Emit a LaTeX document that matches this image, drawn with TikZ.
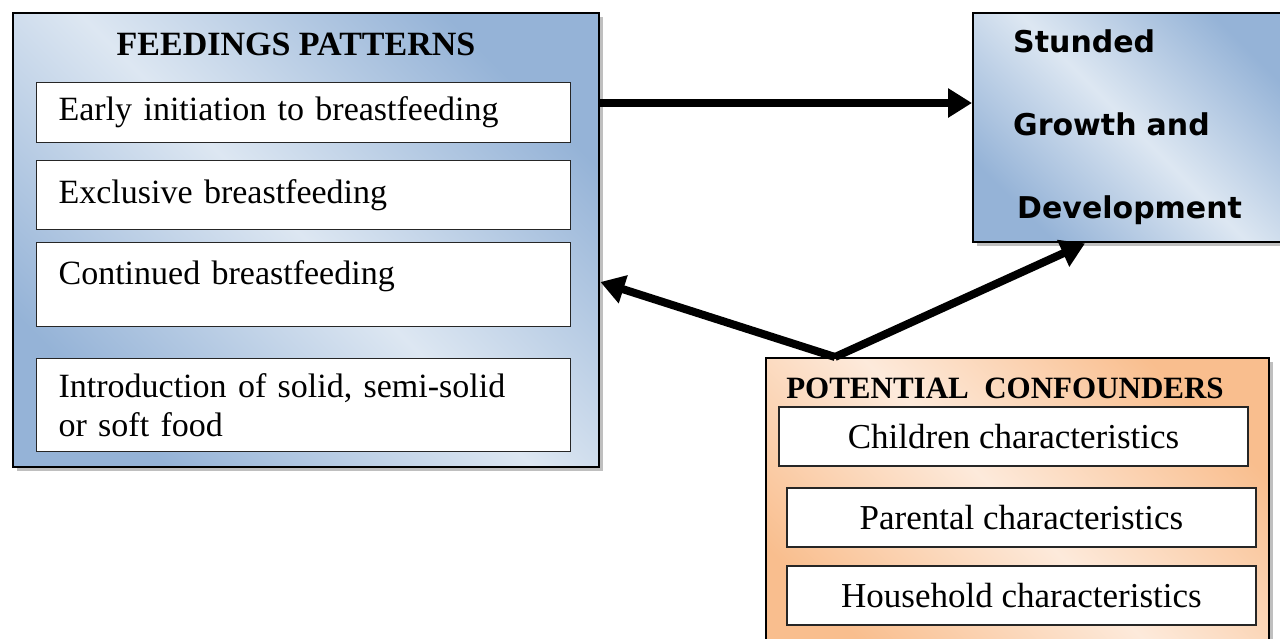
\documentclass[tikz,border=0pt]{standalone}
\usepackage{fontspec}
\setmainfont{Liberation Serif}
\newfontfamily\outcomefont{DejaVu Sans}
\usetikzlibrary{arrows.meta,shadows}

\definecolor{feedblue}{HTML}{95B3D7}
\definecolor{feedpale}{HTML}{DDE7F2}
\definecolor{confpeach}{HTML}{F9BE8E}
\definecolor{confpale}{HTML}{FDEADB}

\begin{document}
\begin{tikzpicture}[x=1pt, y=-1pt]
  \useasboundingbox (0, 0) rectangle (1280, 638);  % Bildgroesse wie Vorlage.
  \tikzstyle{panel}=[draw, line width=2.4pt, inner sep=0pt, anchor=north west, drop shadow={shadow xshift=4pt, shadow yshift=-4pt, opacity=0.5}]
  \tikzstyle{bluepanel}=[panel, top color=feedblue, bottom color=feedblue, middle color=feedpale, shading angle=-45]
  \tikzstyle{peachpanel}=[panel, top color=confpeach, bottom color=confpeach, middle color=confpale, shading angle=-45]
  \tikzstyle{item}=[draw=black!85, line width=1.2pt, fill=white, inner sep=0pt, font=\fontsize{35}{40}\selectfont]
  \tikzstyle{leftitem}=[item, anchor=north west, minimum width=534pt, text width=490pt, align=left, font=\fontsize{34}{39}\selectfont]
  \tikzstyle{rightitem}=[item, minimum width=469pt, minimum height=59pt]
  \tikzstyle{heading}=[font=\fontsize{34}{40}\selectfont\bfseries]
  \tikzstyle{link}=[line width=8pt, -{Triangle[length=24pt, width=28pt]}]

  \node[bluepanel, minimum width=586pt, minimum height=454pt] (feed) at (12, 12) {};
  \node[heading] (feedhead) at (296, 44) {FEEDINGS PATTERNS};
  \node[leftitem, minimum height=60pt]                 (early) at (36, 82)  {Early initiation to breastfeeding};
  \node[leftitem, minimum height=69pt]                 (excl)  at (36, 160) {Exclusive breastfeeding};
  \node[leftitem, minimum height=84pt, text depth=24pt] (cont)  at (36, 242) {Continued breastfeeding};
  \node[leftitem, minimum height=93pt]                 (intro) at (36, 358) {Introduction of solid, semi-solid\\or soft food};

  \node[bluepanel, minimum width=320pt, minimum height=229pt, text width=240pt, align=left,
        font=\outcomefont\bfseries\fontsize{30}{83}\selectfont] (growth) at (972, 12)
        {Stunded\\Growth and\\\hspace*{4pt}Development};

  \node[peachpanel, minimum width=503pt, minimum height=310pt] (conf) at (765, 357) {};
  \node[heading, font=\fontsize{31}{36}\selectfont\bfseries] (confhead) at (1005, 388) {POTENTIAL\enspace CONFOUNDERS};
  \node[rightitem] (child)  at (1013.5, 436.5) {Children characteristics};
  \node[rightitem] (parent) at (1021.5, 517.5) {Parental characteristics};
  \node[rightitem] (house)  at (1021.5, 595.5) {Household characteristics};

  \coordinate (fork) at ([xshift=70pt]conf.north west);
  \draw[link] ([yshift=-91pt]feed.north east) -- ([yshift=-91pt]growth.north west);
  \draw[link] (fork) -- ([yshift=-270pt]feed.north east);
  \draw[link] (fork) -- ([xshift=113pt]growth.south west);
\end{tikzpicture}
\end{document}
